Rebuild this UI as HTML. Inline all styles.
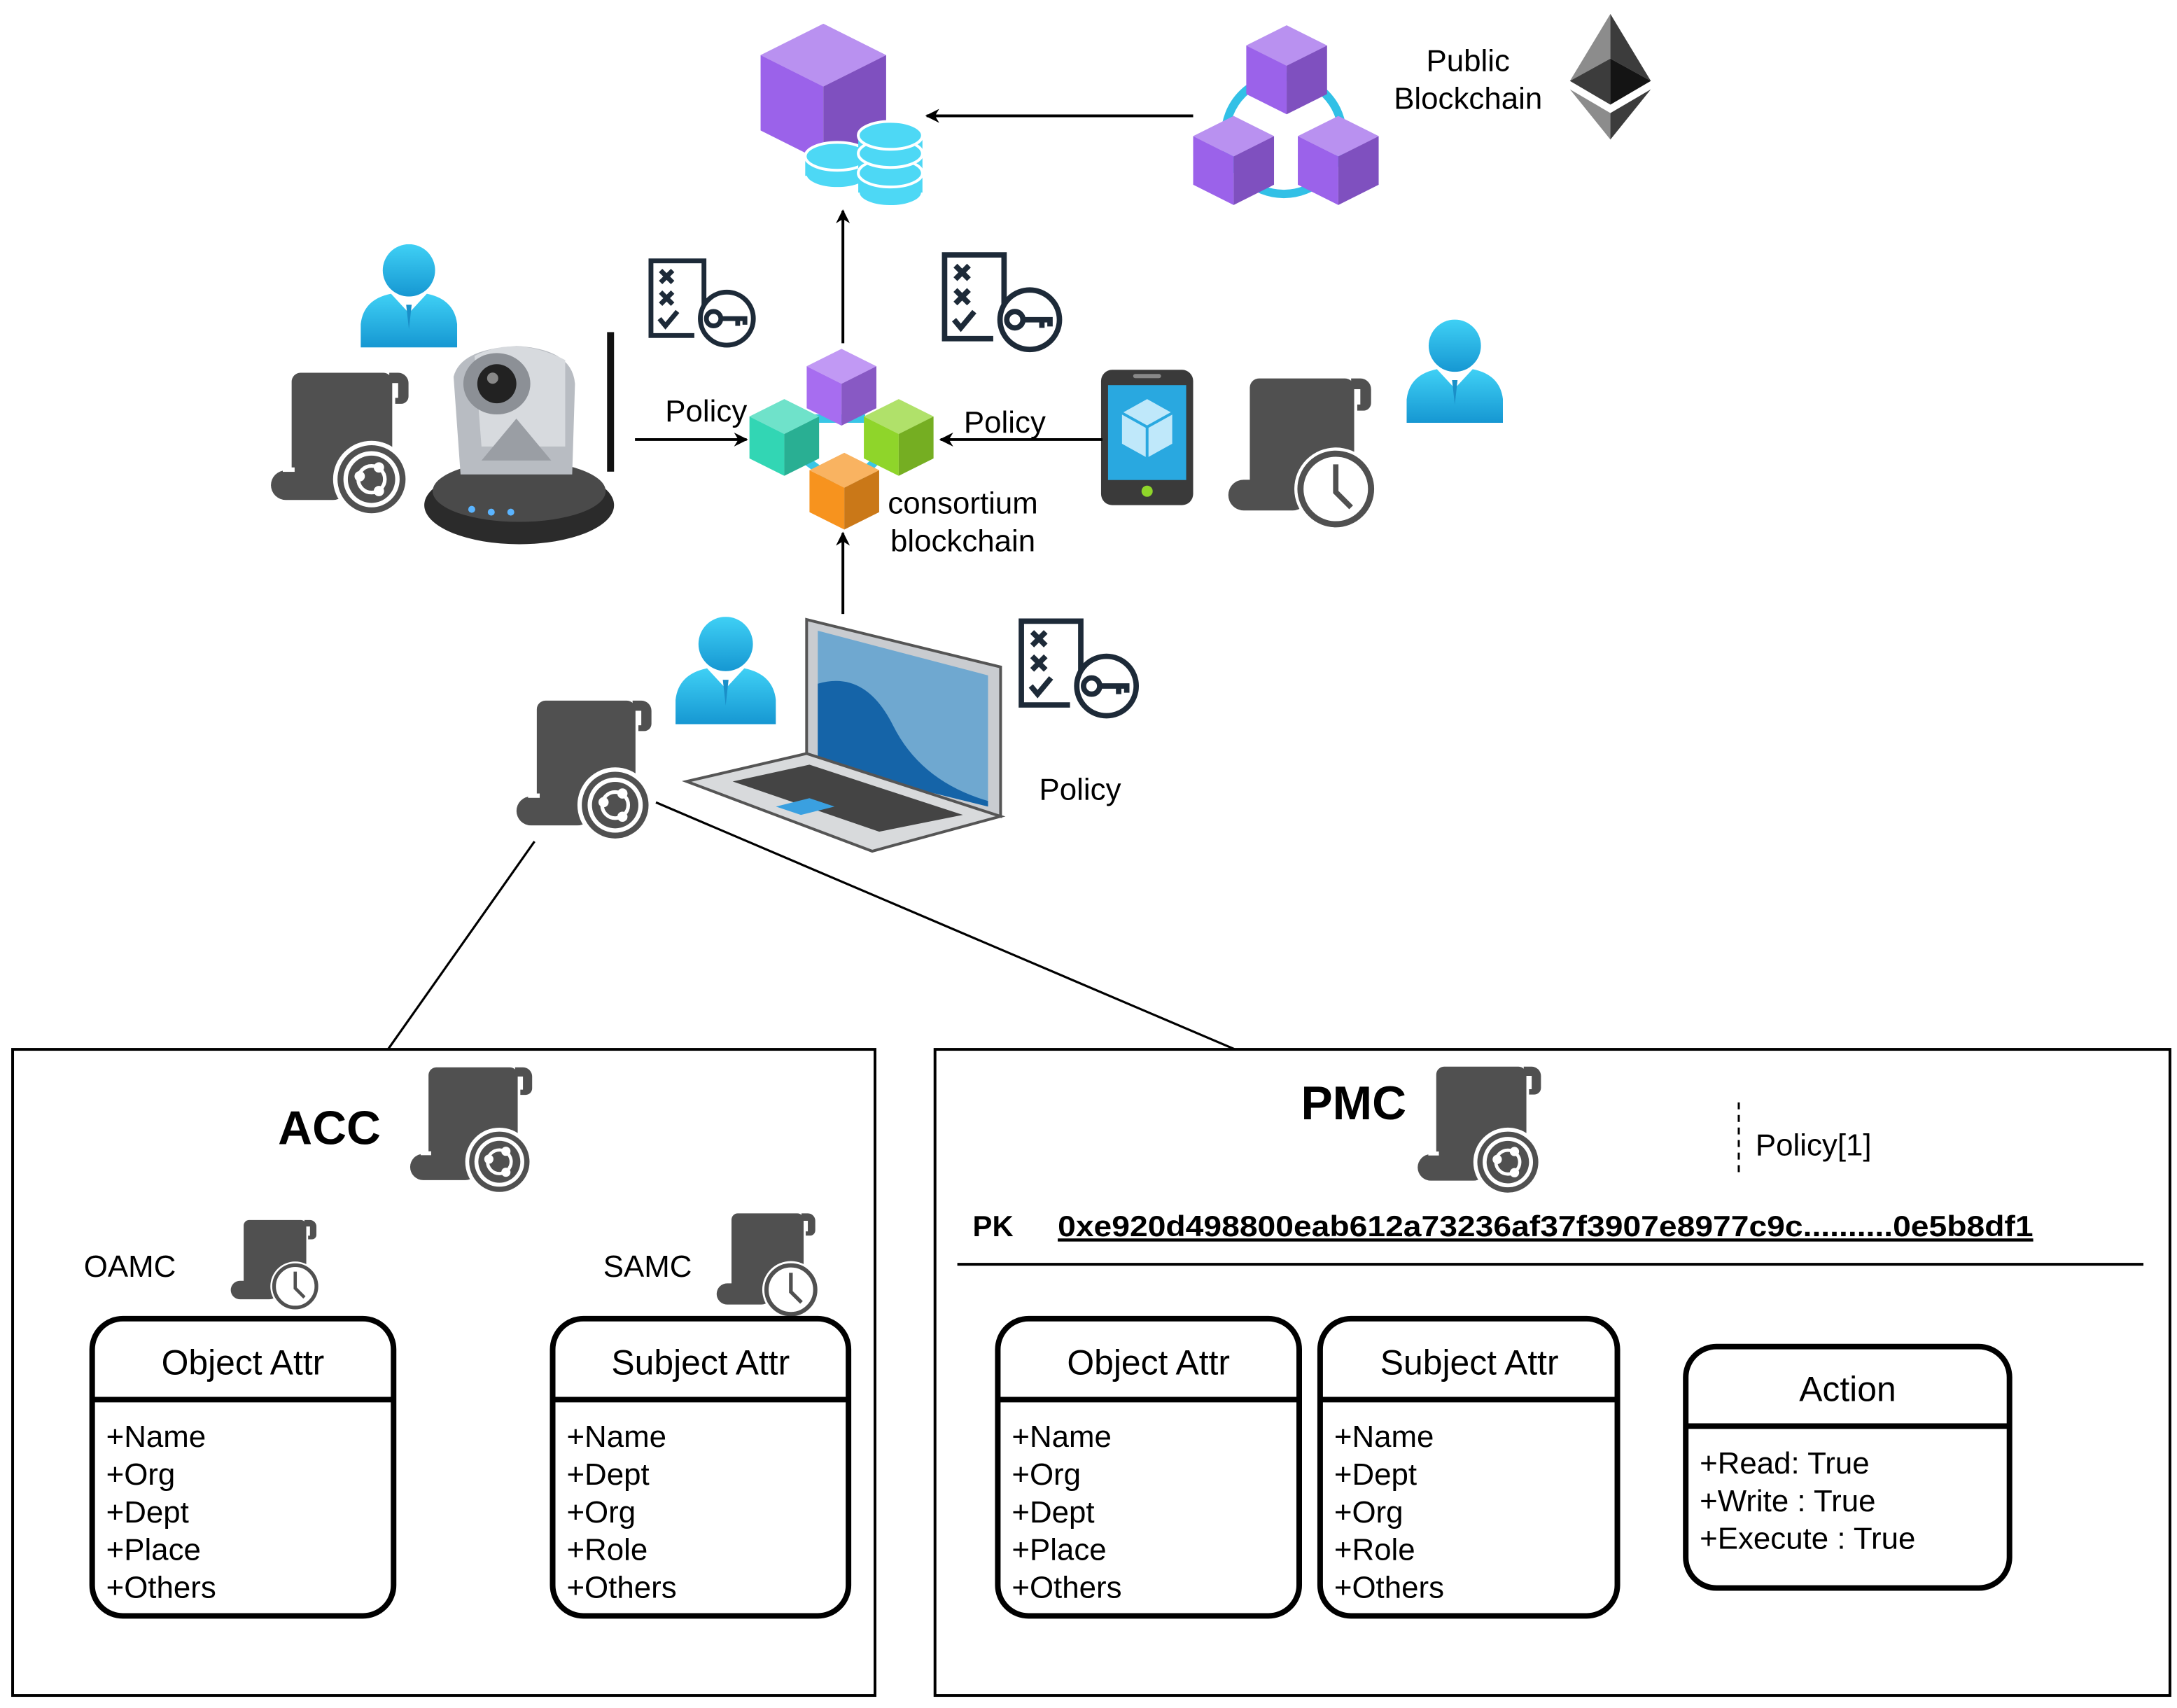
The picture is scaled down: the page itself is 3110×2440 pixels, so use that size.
<!DOCTYPE html>
<html><head><meta charset="utf-8"><style>
html,body{margin:0;padding:0;background:#fff;}
svg{display:block;}
text{font-family:"Liberation Sans",sans-serif;fill:#000;}
</style></head><body>
<svg width="3110" height="2440" viewBox="0 0 1560 1224" xmlns="http://www.w3.org/2000/svg">
<defs>
<marker id="ar" markerWidth="10" markerHeight="10" refX="9" refY="5" orient="auto" markerUnits="userSpaceOnUse">
<path d="M0,0 L10,5 L0,10 L3,5Z" fill="#000"/></marker>
<symbol id="scrollS" viewBox="0 0 100 100">
<rect x="16" y="2" width="68" height="78" rx="6" fill="#505050"/>
<path d="M82,2 h6 a7,7 0 0 1 7,7 v9 a5,5 0 0 1 -5,5 h-4 v-4 h2 v-10 h-6z" fill="#505050"/>
<rect x="2" y="68" width="52" height="20" rx="10" fill="#505050"/>
<rect x="10" y="66" width="8" height="3" fill="#fff"/>
<circle cx="70" cy="74" r="26" fill="#fff"/>
<circle cx="70" cy="74" r="23" fill="#505050"/>
<circle cx="70" cy="74" r="19" fill="#fff"/>
<circle cx="70" cy="74" r="16" fill="#505050"/>
<circle cx="70" cy="74" r="9" fill="none" stroke="#fff" stroke-width="2.5"/>
<circle cx="62" cy="72" r="3.5" fill="#fff"/><circle cx="75" cy="66" r="3.5" fill="#fff"/><circle cx="75" cy="82" r="3.5" fill="#fff"/>
</symbol>
<symbol id="scrollC" viewBox="0 0 100 100">
<rect x="16" y="2" width="68" height="78" rx="6" fill="#505050"/>
<path d="M82,2 h6 a7,7 0 0 1 7,7 v9 a5,5 0 0 1 -5,5 h-4 v-4 h2 v-10 h-6z" fill="#505050"/>
<rect x="2" y="68" width="52" height="20" rx="10" fill="#505050"/>
<circle cx="72" cy="74" r="27" fill="#fff"/>
<circle cx="72" cy="74" r="23" fill="#fff" stroke="#505050" stroke-width="4"/>
<path d="M72,58 V76 L82,86" fill="none" stroke="#505050" stroke-width="3.5"/>
</symbol>
<symbol id="cube" viewBox="0 0 100 110">
<path d="M50,0 L100,25 L50,50 L0,25Z" fill="currentColor"/><path d="M50,0 L100,25 L50,50 L0,25Z" fill="#fff" opacity=".3"/>
<path d="M0,25 L50,50 L50,110 L0,85Z" fill="currentColor"/>
<path d="M100,25 L50,50 L50,110 L100,85Z" fill="currentColor"/><path d="M100,25 L50,50 L50,110 L100,85Z" fill="#000" opacity=".18"/>
</symbol>
<symbol id="user" viewBox="0 0 70 75">
<defs><linearGradient id="ug" x1="0" y1="0" x2="0" y2="1"><stop offset="0" stop-color="#3fd0f5"/><stop offset="1" stop-color="#1697d2"/></linearGradient></defs>
<circle cx="35" cy="19" r="19" fill="url(#ug)"/>
<path d="M0,75 V58 Q2,40 22,36 L35,50 L48,36 Q68,40 70,58 V75Z" fill="url(#ug)"/>
<path d="M28,38 L35,50 L42,38Z" fill="#fff"/><path d="M33,44 L35,62 L37,44Z" fill="#1a8fc8"/>
</symbol>
<symbol id="chk" viewBox="0 0 95 80">
<g fill="none" stroke="#1d2a38" stroke-width="4">
<path d="M48,60 V4 H4 V66 H40"/>
<path d="M12,12 l10,10 M22,12 l-10,10 M12,30 l10,10 M22,30 l-10,10 M11,52 l5,6 l10,-12"/>
<circle cx="67" cy="52" r="22" fill="#fff"/>
<circle cx="56" cy="52" r="6"/>
<path d="M62,52 H84 M76,52 v6 M82,52 v5"/>
</g></symbol>
</defs>

<use href="#cube" x="545" y="17" width="90" height="99" style="color:#9b62ea"/>
<g fill="#4dd8f5" stroke="#fff" stroke-width="2">
<ellipse cx="600" cy="125" rx="23" ry="10"/><rect x="577" y="112" width="46" height="14" stroke="none"/><ellipse cx="600" cy="112" rx="23" ry="10"/>
<ellipse cx="638" cy="138" rx="23" ry="10"/><rect x="615" y="100" width="46" height="38" stroke="none"/>
<ellipse cx="638" cy="124" rx="23" ry="10"/><ellipse cx="638" cy="110" rx="23" ry="10"/><ellipse cx="638" cy="97" rx="23" ry="10"/>
</g>
<line x1="855" y1="83" x2="664" y2="83" stroke="#000" stroke-width="2" marker-end="url(#ar)"/>

<circle cx="920" cy="97" r="42" fill="none" stroke="#32c0e6" stroke-width="6"/>
<use href="#cube" x="893" y="18" width="58" height="64" style="color:#9b62ea"/>
<use href="#cube" x="855" y="82" width="58" height="66" style="color:#9b62ea"/>
<use href="#cube" x="930" y="82" width="58" height="66" style="color:#9b62ea"/>
<text x="1052" y="51" font-size="22" text-anchor="middle">Public</text>
<text x="1052" y="78" font-size="22" text-anchor="middle">Blockchain</text>
<g>
<path d="M1154,10 L1125,58 L1154,42Z" fill="#8c8c8c"/><path d="M1154,10 L1183,58 L1154,42Z" fill="#3c3c3c"/>
<path d="M1125,58 L1154,42 L1154,75Z" fill="#3c3c3c"/><path d="M1183,58 L1154,42 L1154,75Z" fill="#141414"/>
<path d="M1125,64 L1154,100 L1154,81Z" fill="#8c8c8c"/><path d="M1183,64 L1154,100 L1154,81Z" fill="#3c3c3c"/>
</g>

<line x1="604" y1="246" x2="604" y2="151" stroke="#000" stroke-width="2" marker-end="url(#ar)"/>

<g stroke="#39c6e6" stroke-width="6"><line x1="580" y1="300" x2="620" y2="300"/><line x1="575" y1="328" x2="598" y2="345"/><line x1="630" y1="328" x2="612" y2="345"/></g>
<use href="#cube" x="578" y="250" width="50" height="55" style="color:#a76df0"/>
<use href="#cube" x="537" y="286" width="50" height="55" style="color:#32d6b4"/>
<use href="#cube" x="619" y="286" width="50" height="55" style="color:#8fd52a"/>
<use href="#cube" x="580" y="324" width="50" height="56" style="color:#f7931e"/>
<text x="690" y="368" font-size="22" text-anchor="middle">consortium</text>
<text x="690" y="395" font-size="22" text-anchor="middle">blockchain</text>

<use href="#user" x="258" y="175" width="70" height="74"/>
<use href="#scrollS" x="190" y="265" width="110" height="106"/>
<g>
<ellipse cx="372" cy="362" rx="68" ry="28" fill="#2b2b2b"/>
<ellipse cx="372" cy="352" rx="62" ry="22" fill="#4a4a4a"/>
<circle cx="338" cy="365" r="2.5" fill="#5ab4ff"/><circle cx="352" cy="367" r="2.5" fill="#5ab4ff"/><circle cx="366" cy="367" r="2.5" fill="#5ab4ff"/>
<path d="M330,340 L325,270 Q330,250 370,248 Q410,250 412,275 L410,340Z" fill="#b8bcc2"/>
<path d="M340,255 Q370,240 405,258 L405,320 L345,320Z" fill="#d7dade"/>
<ellipse cx="356" cy="275" rx="24" ry="22" fill="#8c9096"/>
<circle cx="356" cy="275" r="14" fill="#222"/><circle cx="353" cy="271" r="4" fill="#888"/>
<path d="M345,330 L370,300 L395,330Z" fill="#9a9ea4"/>
<rect x="435" y="238" width="5" height="100" fill="#111"/>
</g>
<line x1="455" y1="315" x2="535" y2="315" stroke="#000" stroke-width="2" marker-end="url(#ar)"/>
<text x="506" y="302" font-size="22" text-anchor="middle">Policy</text>
<use href="#chk" x="463" y="183" width="82" height="70"/>
<use href="#chk" x="673" y="178" width="92" height="79"/>

<rect x="789" y="265" width="66" height="97" rx="8" fill="#3a3a3a"/>
<rect x="794" y="276" width="56" height="68" fill="#29a8e0"/>
<rect x="812" y="268" width="20" height="3" rx="1.5" fill="#888"/>
<circle cx="822" cy="352" r="4" fill="#8fd52a"/>
<path d="M822,286 L840,296 L840,318 L822,328 L804,318 L804,296Z" fill="#bfe8fa"/>
<path d="M822,306 L840,296 M822,306 L804,296 M822,306 V328" stroke="#29a8e0" stroke-width="2"/>
<line x1="790" y1="315" x2="674" y2="315" stroke="#000" stroke-width="2" marker-end="url(#ar)"/>
<text x="720" y="310" font-size="22" text-anchor="middle">Policy</text>
<use href="#scrollC" x="878" y="268" width="110" height="112"/>
<use href="#user" x="1008" y="229" width="69" height="74"/>

<line x1="604" y1="440" x2="604" y2="382" stroke="#000" stroke-width="2" marker-end="url(#ar)"/>
<use href="#user" x="484" y="442" width="72" height="77"/>
<use href="#scrollS" x="365" y="500" width="110" height="104"/>
<path d="M578,444 L717,478 L717,585 L578,552Z" fill="#c9ccd0" stroke="#555" stroke-width="2"/>
<path d="M586,452 L708,484 L708,578 L586,548Z" fill="#6fa8d0"/>
<path d="M586,490 Q620,480 640,520 Q660,560 708,574 L708,578 L586,548Z" fill="#1564a8"/>
<path d="M492,560 L578,540 L717,585 L625,610 Z" fill="#d8dadc" stroke="#555" stroke-width="2"/>
<path d="M525,560 L580,548 L690,584 L630,596Z" fill="#444"/>
<path d="M556,578 L580,572 L598,578 L574,584Z" fill="#3aa0e0"/>
<use href="#chk" x="728" y="440" width="92" height="80"/>
<text x="774" y="573" font-size="22" text-anchor="middle">Policy</text>

<line x1="383" y1="603" x2="278" y2="752" stroke="#000" stroke-width="1.6"/>
<line x1="470" y1="575" x2="885" y2="752" stroke="#000" stroke-width="1.6"/>

<rect x="9" y="752" width="618" height="463" fill="none" stroke="#000" stroke-width="2"/>
<text x="236" y="820" font-size="34" font-weight="bold" text-anchor="middle">ACC</text>
<use href="#scrollS" x="292" y="762" width="94" height="96"/>
<text x="93" y="915" font-size="22" text-anchor="middle">OAMC</text>
<use href="#scrollC" x="164" y="868" width="66" height="76"/>
<text x="464" y="915" font-size="22" text-anchor="middle">SAMC</text>
<use href="#scrollC" x="511" y="868" width="78" height="76"/>

<g fill="none" stroke="#000" stroke-width="4">
<rect x="66" y="945" width="216" height="213" rx="22"/><line x1="66" y1="1003" x2="282" y2="1003"/>
<rect x="396" y="945" width="212" height="213" rx="22"/><line x1="396" y1="1003" x2="608" y2="1003"/>
<rect x="715" y="945" width="216" height="213" rx="22"/><line x1="715" y1="1003" x2="931" y2="1003"/>
<rect x="946" y="945" width="213" height="213" rx="22"/><line x1="946" y1="1003" x2="1159" y2="1003"/>
<rect x="1208" y="965" width="232" height="173" rx="22"/><line x1="1208" y1="1022" x2="1440" y2="1022"/>
</g>
<g font-size="25" text-anchor="middle">
<text x="174" y="985">Object Attr</text><text x="502" y="985">Subject Attr</text>
<text x="823" y="985">Object Attr</text><text x="1053" y="985">Subject Attr</text>
<text x="1324" y="1004">Action</text>
</g>
<g font-size="22">
<text x="76" y="1037">+Name</text><text x="76" y="1064">+Org</text><text x="76" y="1091">+Dept</text><text x="76" y="1118">+Place</text><text x="76" y="1145">+Others</text>
<text x="406" y="1037">+Name</text><text x="406" y="1064">+Dept</text><text x="406" y="1091">+Org</text><text x="406" y="1118">+Role</text><text x="406" y="1145">+Others</text>
<text x="725" y="1037">+Name</text><text x="725" y="1064">+Org</text><text x="725" y="1091">+Dept</text><text x="725" y="1118">+Place</text><text x="725" y="1145">+Others</text>
<text x="956" y="1037">+Name</text><text x="956" y="1064">+Dept</text><text x="956" y="1091">+Org</text><text x="956" y="1118">+Role</text><text x="956" y="1145">+Others</text>
<text x="1218" y="1056">+Read: True</text><text x="1218" y="1083">+Write : True</text><text x="1218" y="1110">+Execute : True</text>
</g>

<rect x="670" y="752" width="885" height="463" fill="none" stroke="#000" stroke-width="2"/>
<text x="970" y="802" font-size="34" font-weight="bold" text-anchor="middle">PMC</text>
<use href="#scrollS" x="1014" y="762" width="95" height="96"/>
<line x1="1246" y1="790" x2="1246" y2="843" stroke="#000" stroke-width="1.5" stroke-dasharray="5,4"/>
<text x="1258" y="828" font-size="22">Policy[1]</text>
<text x="697" y="886" font-size="21" font-weight="bold">PK</text>
<text x="758" y="886" font-size="21" font-weight="bold" textLength="699" lengthAdjust="spacingAndGlyphs" text-decoration="underline">0xe920d498800eab612a73236af37f3907e8977c9c..........0e5b8df1</text>
<line x1="758" y1="889" x2="1457" y2="889" stroke="#000" stroke-width="1.5"/>
<line x1="686" y1="906" x2="1536" y2="906" stroke="#000" stroke-width="2"/>
</svg>
</body></html>
